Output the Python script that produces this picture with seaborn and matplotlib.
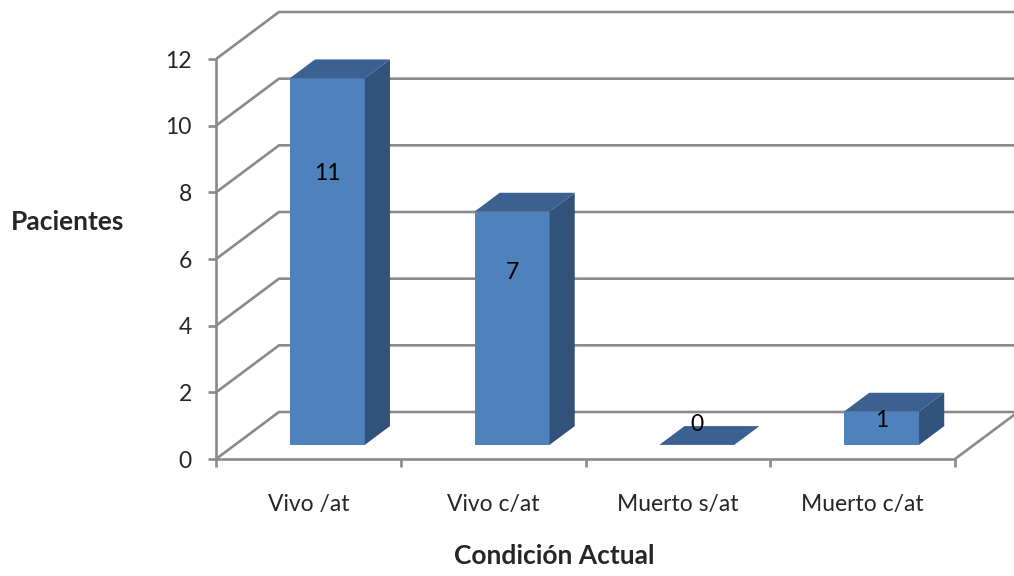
import numpy as np
import matplotlib
matplotlib.use("Agg")
import matplotlib.pyplot as plt
from matplotlib.patches import Polygon
import seaborn as sns

# Data
categorias = ["Vivo /at", "Vivo c/at", "Muerto s/at", "Muerto c/at"]
pacientes = [11, 7, 0, 1]
y_ticks = [0, 2, 4, 6, 8, 10, 12]

sns.set_style("white")
plt.rcParams["font.family"] = ["Lato", "DejaVu Sans"]

W, H, DPI = 1014, 576, 100
fig = plt.figure(figsize=(W / DPI, H / DPI), dpi=DPI)
fig.patch.set_facecolor("white")

# Front plane of the axes: left edge at the value axis, bottom at the floor
left_px, floor_px = 216, 459
cat_px = 184.75          # pixels per category
unit_px = 400 / 12       # pixels per value unit
ax = fig.add_axes([left_px / W, (H - floor_px) / H,
                   (W - left_px) / W, floor_px / H])

# Oblique depth vector, in data units
DX = 63 / cat_px
DY = 47 / unit_px
BAR_D0, BAR_DEPTH = 0.3, 0.4
BAR_W = 75 / cat_px

grid_c = "#8a8a8a"
grid_lw = 1.9
front_c = "#4f81bd"
top_c = "#3c6191"
side_c = "#31527b"

TICK_FS = 16.5
TITLE_FS = 19

sns.barplot(x=categorias, y=pacientes, width=BAR_W, color=front_c,
            saturation=1, ax=ax, zorder=3)

xmax = -0.5 + (W - left_px) / cat_px
ax.set_xlim(-0.5, xmax)
ax.set_ylim(0, floor_px / unit_px)

# Walls: diagonals from the value axis and horizontal back gridlines
for t in y_ticks:
    ax.plot([-0.5, -0.5 + DX, xmax + 1], [t, t + DY, t + DY],
            color=grid_c, lw=grid_lw, zorder=1, solid_capstyle="butt",
            clip_on=True)
# Right edge of the floor
ax.plot([3.5, 3.5 + DX * 2], [0, DY * 2], color=grid_c, lw=grid_lw,
        zorder=1, clip_on=True)

# Turn the flat bars into boxes sitting inside the floor depth
ox, oy = BAR_D0 * DX, BAR_D0 * DY
dx, dy = BAR_DEPTH * DX, BAR_DEPTH * DY
for p, v in zip(ax.patches, pacientes):
    p.set_x(p.get_x() + ox)
    p.set_y(oy)
    p.set_edgecolor("none")
    x0, y0, w, h = p.get_x(), p.get_y(), p.get_width(), p.get_height()
    top = Polygon([(x0, y0 + h), (x0 + w, y0 + h),
                   (x0 + w + dx, y0 + h + dy), (x0 + dx, y0 + h + dy)],
                  closed=True, facecolor=top_c, edgecolor="none", zorder=3)
    ax.add_patch(top)
    if h > 0:
        side = Polygon([(x0 + w, y0), (x0 + w, y0 + h),
                        (x0 + w + dx, y0 + h + dy), (x0 + w + dx, y0 + dy)],
                       closed=True, facecolor=side_c, edgecolor="none",
                       zorder=3)
        ax.add_patch(side)
    ax.text(x0 + w / 2, y0 + max(0.74 * v, 0.6), f"{v}", ha="center",
            va="center", fontsize=TICK_FS, color="black", zorder=5)

# Axes styling
for s in ["top", "right"]:
    ax.spines[s].set_visible(False)
for s in ["left", "bottom"]:
    ax.spines[s].set_color(grid_c)
    ax.spines[s].set_linewidth(grid_lw)
    ax.spines[s].set_zorder(2)
ax.spines["left"].set_bounds(0, 12)
ax.spines["bottom"].set_bounds(-0.5, 3.5)

ax.set_yticks(y_ticks)
ax.set_yticklabels([str(t) for t in y_ticks])
ax.set_xticks(range(len(categorias)))
ax.set_xticklabels(categorias)
ax.set_xticks([i - 0.5 for i in range(len(categorias) + 1)], minor=True)
ax.tick_params(axis="y", which="major", length=5.5, width=grid_lw,
               color=grid_c, pad=12, labelsize=TICK_FS, left=True)
ax.tick_params(axis="x", which="major", length=0, pad=25,
               labelsize=TICK_FS)
ax.tick_params(axis="x", which="minor", length=6, width=grid_lw,
               color=grid_c, bottom=True)
ax.set_xlabel("")
ax.set_ylabel("")

fig.text(68 / W, 1 - 222 / H, "Pacientes", ha="center", va="center",
         fontsize=TITLE_FS, fontweight="bold")
fig.text(554 / W, 1 - 556 / H, "Condición Actual", ha="center",
         va="center", fontsize=TITLE_FS, fontweight="bold")

fig.savefig("out.png", dpi=DPI, facecolor="white")
